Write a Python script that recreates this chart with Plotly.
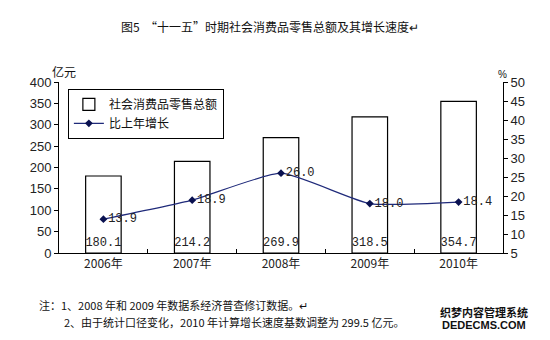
import plotly.graph_objects as go

years = ["2006年", "2007年", "2008年", "2009年", "2010年"]
sales = [180.1, 214.2, 269.9, 318.5, 354.7]
growth = [13.9, 18.9, 26.0, 18.0, 18.4]

CJK = "Noto Sans CJK SC"
NUM = "Liberation Sans"
SERIF = "Liberation Mono"

L, R, T, B = 59, 503, 82, 253
W, H = 550, 340

fig = go.Figure()
fig.add_trace(go.Bar(
    x=years, y=sales, name="社会消费品零售总额",
    marker=dict(color="white", line=dict(color="black", width=1.2)),
    width=0.4,
    text=[f"{v:.1f}" for v in sales], textposition="inside",
    insidetextanchor="start", textangle=0, constraintext="none",
    textfont=dict(family=SERIF, size=12, color="#222"),
    cliponaxis=False,
))
fig.add_trace(go.Scatter(
    x=years, y=growth, name="比上年增长", yaxis="y2",
    mode="lines+markers+text",
    line=dict(color="#1f2a7a", width=1.2, shape="spline", smoothing=0.5),
    marker=dict(symbol="diamond", size=6, color="#0a1150"),
    text=[f"{v:.1f}" for v in growth], textposition="middle right",
    textfont=dict(family=SERIF, size=12, color="#222"),
    cliponaxis=False,
))

fig.update_layout(
    width=W, height=H,
    margin=dict(l=L, r=W - R, t=T, b=H - B),
    paper_bgcolor="white", plot_bgcolor="white",
    showlegend=True,
    legend=dict(x=0.02, y=0.96, xanchor="left", yanchor="top",
                bordercolor="black", borderwidth=1, bgcolor="white",
                font=dict(family=CJK, size=12, color="#111"),
                tracegroupgap=0, itemwidth=30),
    xaxis=dict(type="category", showline=True, linecolor="black", linewidth=1,
               ticks="inside", tickson="boundaries", ticklen=4, tickcolor="black",
               tickfont=dict(family=CJK, size=12, color="#222"),
               showgrid=False, range=[-0.5, 4.5]),
    yaxis=dict(range=[0, 400], dtick=50, showline=True, linecolor="black", linewidth=1,
               ticks="outside", ticklen=4, tickcolor="black", showgrid=False, zeroline=False,
               tickfont=dict(family=NUM, size=13, color="#222")),
    yaxis2=dict(range=[5, 50], dtick=5, overlaying="y", side="right",
                showline=True, linecolor="black", linewidth=1,
                ticks="outside", ticklen=4, tickcolor="black", showgrid=False, zeroline=False,
                tickfont=dict(family=NUM, size=13, color="#222")),
    bargap=0.6,
)

anns = [
    dict(text="图5  “十一五”时期社会消费品零售总额及其增长速度↵", x=270, y=27,
         font=dict(family=CJK, size=12, color="#111")),
    dict(text="亿元", x=64, y=72, font=dict(family=CJK, size=12, color="#111")),
    dict(text="%", x=502, y=74, font=dict(family=NUM, size=10, color="#111")),
    dict(text="注：1、2008 年和 2009 年数据系经济普查修订数据。↵", x=37, y=305, xanchor="left",
         font=dict(family=CJK, size=11, color="#111")),
    dict(text="2、由于统计口径变化，2010 年计算增长速度基数调整为 299.5 亿元。", x=62, y=322, xanchor="left",
         font=dict(family=CJK, size=11, color="#111")),
    dict(text="<b>织梦内容管理系统</b>", x=484, y=312, font=dict(family=CJK, size=11, color="#111")),
    dict(text="<b>DEDECMS.COM</b>", x=484, y=325, font=dict(family=NUM, size=11, color="#111")),
]
for a in anns:
    xa = a.get("xanchor", "center")
    fig.add_annotation(xref="paper", yref="paper",
                       x=(a["x"] - L) / (R - L), y=(B - a["y"]) / (B - T),
                       xanchor=xa, yanchor="middle",
                       text=a["text"], font=a["font"], showarrow=False)

fig.write_html("out.html")
